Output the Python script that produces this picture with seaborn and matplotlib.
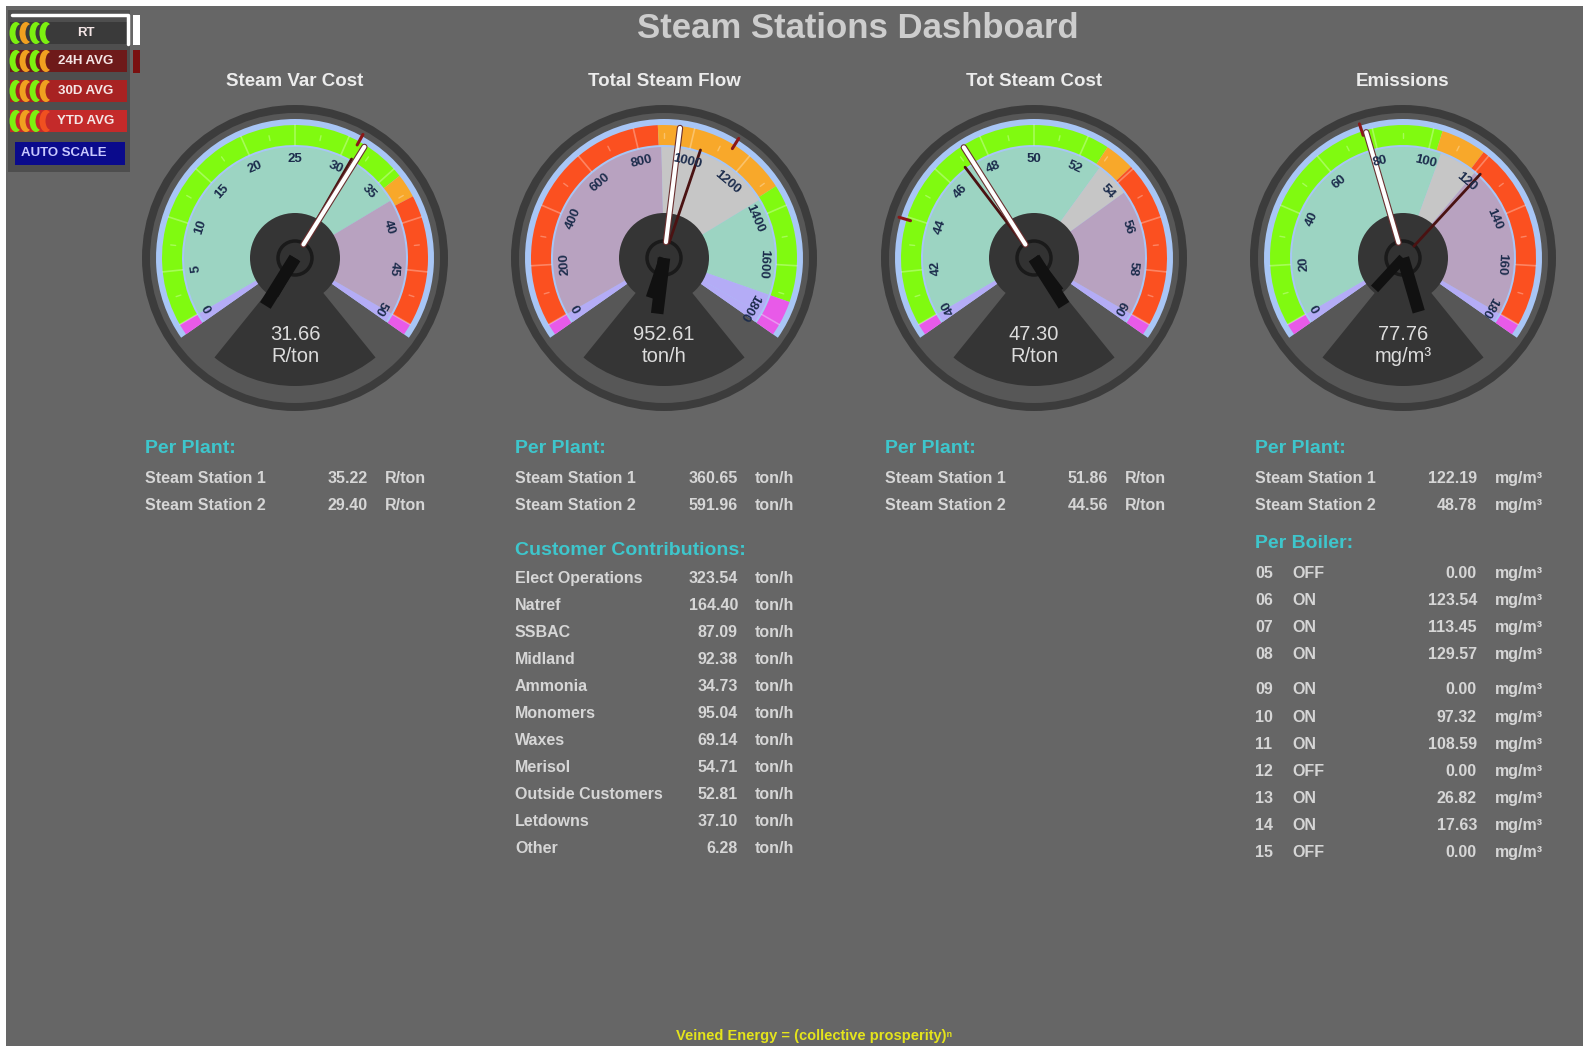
import numpy as np
import matplotlib
matplotlib.use("Agg")
import matplotlib.pyplot as plt
import matplotlib.patches as mpatches
import matplotlib.patheffects as pe
import seaborn as sns

W, H = 1583, 1046

# ---- gauge data ----
titles = ["Steam Var Cost", "Total Steam Flow", "Tot Steam Cost", "Emissions"]
units = ["R/ton", "ton/h", "R/ton", "mg/m³"]
values = [31.66, 952.61, 47.30, 77.76]
avg_values = [31.2, 1040, 46.9, 122]
rim_marks = [31.0, 1140, 43.9, 76.5]
scale_min = [0, 0, 40, 0]
scale_max = [50, 1800, 60, 180]
scale_step = [5, 200, 2, 20]
band_zones = [
    [(0, 35.8, "green"), (35.8, 38, "orange"), (38, 50, "red")],
    [(0, 880, "red"), (880, 1330, "orange"), (1330, 1720, "green"), (1720, 1800, "magenta")],
    [(40, 52.8, "green"), (52.8, 53.9, "orange"), (53.9, 60, "red")],
    [(0, 103, "green"), (103, 118, "orange"), (118, 180, "red")],
]
face_zones = [
    [(0, 37.3, "green"), (37.3, 50, "red")],
    [(0, 890, "red"), (890, 1340, "orange"), (1340, 1720, "green"), (1720, 1800, "magenta")],
    [(40, 53, "green"), (53, 54.5, "orange"), (54.5, 60, "red")],
    [(0, 105, "green"), (105, 120, "orange"), (120, 180, "red")],
]

# ---- table data ----
plant_names = ["Steam Station 1", "Steam Station 2"]
plant_values = [["35.22", "29.40"], ["360.65", "591.96"], ["51.86", "44.56"], ["122.19", "48.78"]]
customers = ["Elect Operations", "Natref", "SSBAC", "Midland", "Ammonia", "Monomers",
             "Waxes", "Merisol", "Outside Customers", "Letdowns", "Other"]
customer_flow = ["323.54", "164.40", "87.09", "92.38", "34.73", "95.04",
                 "69.14", "54.71", "52.81", "37.10", "6.28"]
boiler_ids = ["05", "06", "07", "08", "09", "10", "11", "12", "13", "14", "15"]
boiler_state = ["OFF", "ON", "ON", "ON", "ON", "ON", "ON", "OFF", "ON", "ON", "OFF"]
boiler_emis = ["0.00", "123.54", "113.45", "129.57", "0.00", "97.32",
               "108.59", "0.00", "26.82", "17.63", "0.00"]
boiler_rows_y = [573, 600, 627, 654, 689, 717, 744, 771, 798, 825, 852]

buttons = ["RT", "24H AVG", "30D AVG", "YTD AVG"]
button_colors = ["#3a3a3a", "#6e1a1a", "#a82222", "#c42a2a"]

band_col = {"green": "#80fa10", "orange": "#f8a82a", "red": "#fb5020", "magenta": "#e85ae8"}
face_col = {"green": "#9cd4c2", "orange": "#c6c6c6", "red": "#b8a2c0", "magenta": "#b4acf6"}

sns.set_theme(style="dark")
plt.rcParams["font.family"] = ["Liberation Sans", "DejaVu Sans"]

fig = plt.figure(figsize=(W / 100, H / 100), dpi=100)
fig.patch.set_facecolor("white")
ax = fig.add_axes([0, 0, 1, 1])
ax.set_xlim(0, W)
ax.set_ylim(0, H)
ax.axis("off")


def Y(y):
    return H - y


ax.add_patch(mpatches.Rectangle((6, 0), W, H - 6, fc="#666666", ec="none"))

centers_x = [295, 664, 1034, 1403]
cy = 258


def ang(v, i):
    return 210 - (v - scale_min[i]) / (scale_max[i] - scale_min[i]) * 240


def pt(cx, a, r):
    t = np.radians(a)
    return cx + r * np.cos(t), Y(cy) + r * np.sin(t)


for i, cx in enumerate(centers_x):
    c = (cx, Y(cy))
    ax.text(cx, Y(81), titles[i], ha="center", va="center", color="#ececec",
            fontsize=13.5, fontweight="bold")
    ax.add_patch(mpatches.Circle(c, 153, fc="#3c3c3c", ec="none"))
    ax.add_patch(mpatches.Circle(c, 145, fc="#575757", ec="none"))
    ax.add_patch(mpatches.Wedge(c, 139, -35, 215, fc="#a8c6f6", ec="none"))
    # out-of-range ends
    for t1, t2 in [(210, 215), (-35, -30)]:
        ax.add_patch(mpatches.Wedge(c, 133, t1, t2, width=20, fc=band_col["magenta"], ec="none"))
        ax.add_patch(mpatches.Wedge(c, 111, t1, t2, fc=face_col["magenta"], ec="none"))
    for v0, v1, k in band_zones[i]:
        ax.add_patch(mpatches.Wedge(c, 133, ang(v1, i), ang(v0, i), width=20,
                                    fc=band_col[k], ec="none"))
    for v0, v1, k in face_zones[i]:
        ax.add_patch(mpatches.Wedge(c, 111, ang(v1, i), ang(v0, i), fc=face_col[k], ec="none"))
    # ticks and labels
    ticks = np.arange(scale_min[i], scale_max[i] + scale_step[i] / 2, scale_step[i])
    for v in ticks:
        a = ang(v, i)
        x0, y0 = pt(cx, a, 113)
        x1, y1 = pt(cx, a, 133)
        ax.plot([x0, x1], [y0, y1], color="white", alpha=0.3, lw=1.2)
        lx, ly = pt(cx, a, 99)
        ax.text(lx, ly, f"{v:g}", ha="center", va="center", rotation=a - 90,
                rotation_mode="anchor", color="#1c2c4c", fontsize=9.5, fontweight="bold")
    for v in ticks[:-1] + scale_step[i] / 2:
        a = ang(v, i)
        x0, y0 = pt(cx, a, 120)
        x1, y1 = pt(cx, a, 125)
        ax.plot([x0, x1], [y0, y1], color="white", alpha=0.3, lw=1)
    # rim mark
    a = ang(rim_marks[i], i)
    x0, y0 = pt(cx, a, 129)
    x1, y1 = pt(cx, a, 141)
    ax.plot([x0, x1], [y0, y1], color="#8a1818", lw=2.2)
    # bottom wedge and hub
    ax.add_patch(mpatches.Wedge(c, 128, 231, 309, fc="#353535", ec="none"))
    ax.add_patch(mpatches.Circle(c, 45, fc="#353535", ec="none"))
    # tails
    for v, rr, lw in [(avg_values[i], 42, 7), (values[i], 56, 9)]:
        a = ang(v, i) + 180
        x1, y1 = pt(cx, a, rr)
        sns.lineplot(x=[cx, x1], y=[Y(cy), y1], ax=ax, color="#111111", lw=lw,
                     sort=False, estimator=None, legend=False, solid_capstyle="butt")
    # needles
    a = ang(avg_values[i], i)
    x0, y0 = pt(cx, a, 16)
    x1, y1 = pt(cx, a, 114)
    sns.lineplot(x=[x0, x1], y=[y0, y1], ax=ax, color="#4a1212", lw=2,
                 sort=False, estimator=None, legend=False)
    a = ang(values[i], i)
    x0, y0 = pt(cx, a, 16)
    x1, y1 = pt(cx, a, 131)
    sns.lineplot(x=[x0, x1], y=[y0, y1], ax=ax, color="white", lw=3,
                 sort=False, estimator=None, legend=False,
                 path_effects=[pe.Stroke(linewidth=4.6, foreground="#6a3030"), pe.Normal()])
    ax.add_patch(mpatches.Circle(c, 17, fc="#323232", ec="#1a1a1a", lw=2.5))
    # value readout
    ax.text(cx, Y(cy + 76), f"{values[i]:.2f}", ha="center", va="center",
            color="#dcdcdc", fontsize=14.5)
    ax.text(cx, Y(cy + 98), units[i], ha="center", va="center",
            color="#dcdcdc", fontsize=14.5)

# ---- tables ----
head_c = "#3ec6cc"
row_c = "#d6d6d6"
fs_row = 11.5
fs_head = 14
lab_x = [145, 515, 885, 1255]
val_x = [368, 738, 1108, 1477]
unit_x = [385, 755, 1125, 1495]


def row_text(x, y, s, ha="left", color=row_c, fs=fs_row):
    # y is the visual row centre in pixels from the top; draw on a common baseline
    ax.text(x, Y(y + 5), s, color=color, fontsize=fs, fontweight="bold",
            va="baseline", ha=ha)


for i in range(4):
    row_text(lab_x[i], 448, "Per Plant:", color=head_c, fs=fs_head)
    for j, name in enumerate(plant_names):
        yy = 478 + 27 * j
        row_text(lab_x[i], yy, name)
        row_text(val_x[i], yy, plant_values[i][j], ha="right")
        row_text(unit_x[i], yy, units[i])

row_text(515, 550, "Customer Contributions:", color=head_c, fs=fs_head)
for j, name in enumerate(customers):
    yy = 578 + 27 * j
    row_text(515, yy, name)
    row_text(738, yy, customer_flow[j], ha="right")
    row_text(755, yy, "ton/h")

row_text(1255, 543, "Per Boiler:", color=head_c, fs=fs_head)
for j, b in enumerate(boiler_ids):
    yy = boiler_rows_y[j]
    row_text(1255, yy, b)
    row_text(1292, yy, boiler_state[j])
    row_text(1477, yy, boiler_emis[j], ha="right")
    row_text(1495, yy, "mg/m³")

# ---- title and footer ----
ax.text(858, Y(29), "Steam Stations Dashboard", ha="center", va="center",
        color="#cdcdcd", fontsize=25, fontweight="bold")
ax.text(814, Y(1036), "Veined Energy = (collective prosperity)ⁿ", ha="center", va="center",
        color="#e4e41c", fontsize=10.5, fontweight="bold")

# ---- top-left button panel ----
ax.add_patch(mpatches.Rectangle((8, Y(172)), 122, 162, fc="#4e4e4e", ec="none"))
ax.plot([12, 128, 128], [Y(15), Y(15), Y(44)], color="white", lw=2.5)
ax.add_patch(mpatches.Rectangle((133, Y(45)), 7, 30, fc="white", ec="none"))
ax.add_patch(mpatches.Rectangle((133, Y(73)), 7, 23, fc="#7a1010", ec="none"))
crescent_sets = [["#7cf010", "#f0a020", "#7cf010", "#7cf010"],
                 ["#7cf010", "#f0a020", "#7cf010", "#f0a020"],
                 ["#7cf010", "#f0a020", "#7cf010", "#f0a020"],
                 ["#7cf010", "#f0a020", "#7cf010", "#f05020"]]
row_top = [22, 50, 80, 110]
for k, lab in enumerate(buttons):
    y0 = row_top[k]
    ax.add_patch(mpatches.Rectangle((10, Y(y0 + 22)), 117, 22, fc=button_colors[k], ec="none"))
    for m, col in enumerate(crescent_sets[k]):
        xm = 16 + 10 * m
        ax.add_patch(mpatches.Ellipse((xm, Y(y0 + 11)), 13, 22, fc=col, ec="none"))
        ax.add_patch(mpatches.Ellipse((xm + 5, Y(y0 + 11)), 11, 18, fc=button_colors[k],
                                      ec="none"))
    ax.text(86, Y(y0 + 11), lab, ha="center", va="center", color="#f4e6e6",
            fontsize=9.5, fontweight="bold")
ax.add_patch(mpatches.Rectangle((15, Y(165)), 110, 23, fc="#0a0a8c", ec="none"))
ax.text(64, Y(153), "AUTO SCALE", ha="center", va="center", color="#c8c8ff",
        fontsize=9.5, fontweight="bold")

fig.savefig("out.png", dpi=100, facecolor=fig.get_facecolor())
